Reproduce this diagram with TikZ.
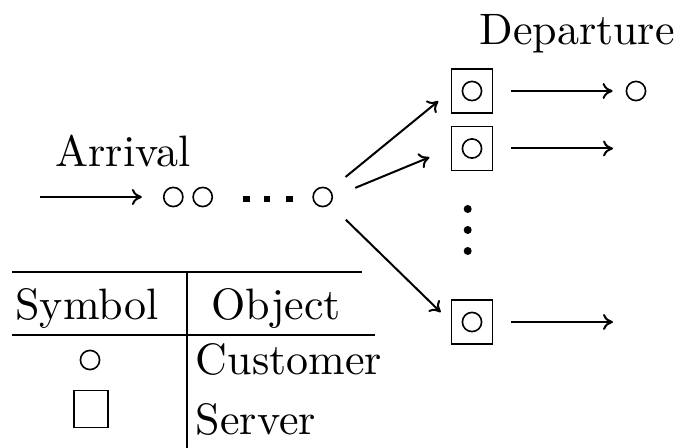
\documentclass[tikz,border=0pt]{standalone}
\usepackage{tikz}
\usetikzlibrary{arrows.meta}

\begin{document}
\begin{tikzpicture}[
  x = 0.5pt, y = -0.5pt,
  font = \fontsize{10}{12}\selectfont,
  txt/.style = {scale = 2.2},
  customer/.style = {circle, draw, line width = 0.8pt, inner sep = 0pt,
    minimum size = 9.6pt},
  server/.style = {rectangle, draw, line width = 0.8pt, inner sep = 0pt,
    minimum width = 20.5pt, minimum height = 22pt},
  qdot/.style = {rectangle, fill, inner sep = 0pt, minimum size = 3.4pt},
  vdot/.style = {circle, fill, inner sep = 0pt, minimum size = 4pt},
  flow/.style = {-{To[length = 5pt, width = 8pt]}, line width = 1pt}
  ]

  \useasboundingbox (0,0) rectangle (686,448);

  % Queue
  \coordinate (in) at (40,197);
  \node at (123,167) [txt, anchor = base, name = arr] {Arrival};
  \node at (173.3,197) [customer, name = q1] {};
  \node at (202.7,197) [customer, name = q2] {};
  \node at (246.7,199) [qdot, name = qd1] {};
  \node at (267  ,199) [qdot, name = qd2] {};
  \node at (289.5,199) [qdot, name = qd3] {};
  \node at (322.7,197) [customer, name = q3] {};

  % Servers
  \node at (472,  91) [server, name = s1] {};
  \node at (s1) [customer, name = c1] {};
  \node at (472,148.5) [server, name = s2] {};
  \node at (s2) [customer, name = c2] {};
  \node at (467.7,209) [vdot, name = v1] {};
  \node at (467.7,230) [vdot, name = v2] {};
  \node at (467.7,251) [vdot, name = v3] {};
  \node at (472, 322) [server, name = s3] {};
  \node at (s3) [customer, name = c3] {};

  % Departure
  \node at (577,45) [txt, anchor = base, name = dep] {Departure};
  \node at (636,91) [customer, name = d] {};
  \coordinate (o2) at (613,148.5);
  \coordinate (o3) at (613,322);

  % Flows
  \draw [flow, shorten > = 10.5pt] (in) -- (q1);

  \draw [flow, shorten < = 10pt, shorten > = 8pt] (q3.north east) -- (s1.west);
  \draw [flow, shorten < = 12pt, shorten > = 11.5pt] (q3.east) -- (s2.west);
  \draw [flow, shorten < = 11pt, shorten > = 7pt] (q3.south east) -- (s3.west);

  \draw [flow, shorten < = 8.9pt, shorten > = 6.5pt] (s1) -- (d);
  \draw [flow, shorten < = 8.9pt] (s2) -- (o2);
  \draw [flow, shorten < = 8.9pt] (s3) -- (o3);

  % Legend
  \draw [line width = 0.9pt] (12,272) -- (362,272);
  \draw [line width = 0.9pt] (12,335) -- (375,335);
  \draw [line width = 0.9pt] (187,272) -- (187,448);

  \node at (87,320) [txt, anchor = base, name = symb] {Symbol};
  \node at (276,320) [txt, anchor = base, name = obj] {Object};
  \node at (90,360) [customer, name = lc] {};
  \node at (91,409) [rectangle, draw, line width = 0.8pt, inner sep = 0pt,
    minimum width = 17pt, minimum height = 18.5pt, name = ls] {};
  \node at (195,375) [txt, anchor = base west, inner sep = 0pt, name = cust] {Customer};
  \node at (195,435) [txt, anchor = base west, inner sep = 0pt, name = serv] {Server};

\end{tikzpicture}
\end{document}
